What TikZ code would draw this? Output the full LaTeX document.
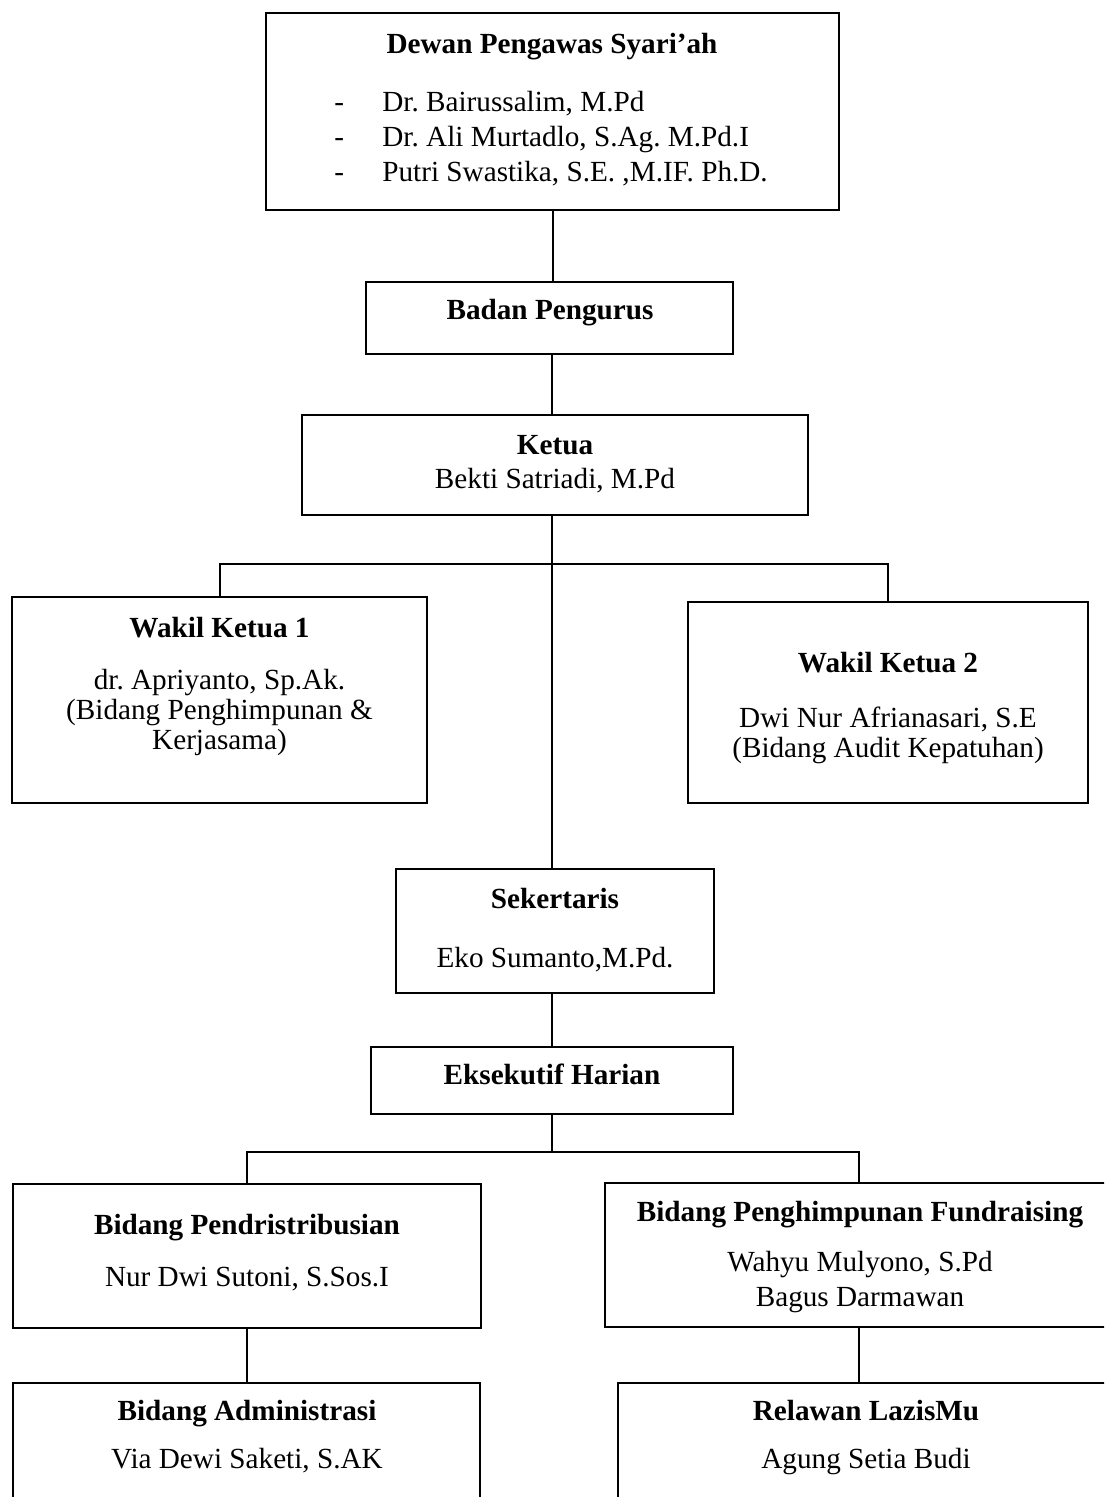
\documentclass[tikz,border=0pt]{standalone}
\usepackage{fontspec}
\setmainfont{Liberation Serif}
\frenchspacing
\tikzset{
  orgbox/.style={draw, line width=1.15pt, inner sep=0pt},
  orgtext/.style={anchor=base, align=center, inner sep=0pt},
  orgline/.style={line width=1pt}
}

\begin{document}
\begin{tikzpicture}[x=0.5pt, y=-0.5pt, font=\fontsize{14.6}{15}\selectfont]
  \useasboundingbox (0,0) rectangle (1104,1497);
  \clip (0,0) rectangle (1104,1497);
  % boxes
  \node[orgbox, minimum width=286.5pt, minimum height=98.5pt] (dewan) at (552.5,111.5) {};
  \node[orgbox, minimum width=183.5pt, minimum height=36pt] (badan) at (549.5,318) {};
  \node[orgbox, minimum width=253pt, minimum height=50pt] (ketua) at (555,465) {};
  \node[orgbox, minimum width=207.5pt, minimum height=103pt] (wakil1) at (219.5,700) {};
  \node[orgbox, minimum width=200pt, minimum height=100.5pt] (wakil2) at (888,702.5) {};
  \node[orgbox, minimum width=159pt, minimum height=62pt] (sekretaris) at (555,931) {};
  \node[orgbox, minimum width=181pt, minimum height=33.5pt] (eksekutif) at (552,1080.5) {};
  \node[orgbox, minimum width=234pt, minimum height=72pt] (distribusi) at (247,1256) {};
  \node[orgbox, minimum width=255pt, minimum height=72pt] (fundraising) at (860,1255) {};
  \node[orgbox, minimum width=233.5pt, minimum height=73.5pt] (admin) at (246.5,1456.5) {};
  \node[orgbox, minimum width=248pt, minimum height=73.5pt] (relawan) at (866,1456.5) {};
  % texts (base = last line)
  \node[orgtext] (dewanhead) at (552,54) {\textbf{Dewan Pengawas Syari'ah}};
  \node[orgtext, anchor=base west, align=left, font=\fontsize{14.6}{17.5}\selectfont] (dewanlist) at (334,182)
    {\makebox[24pt][l]{-}Dr. Bairussalim, M.Pd\\
     \makebox[24pt][l]{-}Dr. Ali Murtadlo, S.Ag. M.Pd.I\\
     \makebox[24pt][l]{-}Putri Swastika, S.E. ,M.IF. Ph.D.};
  \node[orgtext] (badanhead) at (550,320) {\textbf{Badan Pengurus}};
  \node[orgtext] (ketuahead) at (555,488) {\textbf{Ketua}\\[2pt]Bekti Satriadi, M.Pd};
  \node[orgtext] (wakil1head) at (219.5,749)
    {\textbf{Wakil Ketua 1}\\[11pt]dr. Apriyanto, Sp.Ak.\\(Bidang Penghimpunan \&\\Kerjasama)};
  \node[orgtext] (wakil2head) at (888,757)
    {\textbf{Wakil Ketua 2}\\[12.5pt]Dwi Nur Afrianasari, S.E\\(Bidang Audit Kepatuhan)};
  \node[orgtext] (sekretarishead) at (555,967) {\textbf{Sekertaris}\\[14.5pt]Eko Sumanto,M.Pd.};
  \node[orgtext] (eksekutifhead) at (552,1084) {\textbf{Eksekutif Harian}};
  \node[orgtext] (distribusihead) at (247,1286) {\textbf{Bidang Pendristribusian}\\[11pt]Nur Dwi Sutoni, S.Sos.I};
  \node[orgtext] (fundraisinghead) at (860,1306)
    {\textbf{Bidang Penghimpunan Fundraising}\\[10pt]Wahyu Mulyono, S.Pd\\[2.5pt]Bagus Darmawan};
  \node[orgtext] (adminhead) at (247,1468) {\textbf{Bidang Administrasi}\\[9pt]Via Dewi Saketi, S.AK};
  \node[orgtext] (relawanhead) at (866,1468) {\textbf{Relawan LazisMu}\\[9pt]Agung Setia Budi};
  % connectors
  \coordinate (split1) at (552,564);
  \coordinate (split2) at (552,1152);
  \draw[orgline] (dewan.south) -- (dewan.south |- badan.north);
  \draw[orgline] (split1 |- badan.south) -- (split1 |- ketua.north);
  \draw[orgline] (split1 |- ketua.south) -- (split1 |- sekretaris.north);
  \draw[orgline] (wakil1.north) |- (split1) -| (wakil2.north);
  \draw[orgline] (split2 |- sekretaris.south) -- (split2 |- eksekutif.north);
  \draw[orgline] (split2 |- eksekutif.south) -- (split2);
  \draw[orgline] (distribusi.north) |- (split2) -| ([xshift=-0.5pt]fundraising.north);
  \draw[orgline] (distribusi.south) -- (distribusi.south |- admin.north);
  \draw[orgline] ([xshift=-0.5pt]fundraising.south) -- ([xshift=-0.5pt]fundraising.south |- relawan.north);
\end{tikzpicture}
\end{document}
